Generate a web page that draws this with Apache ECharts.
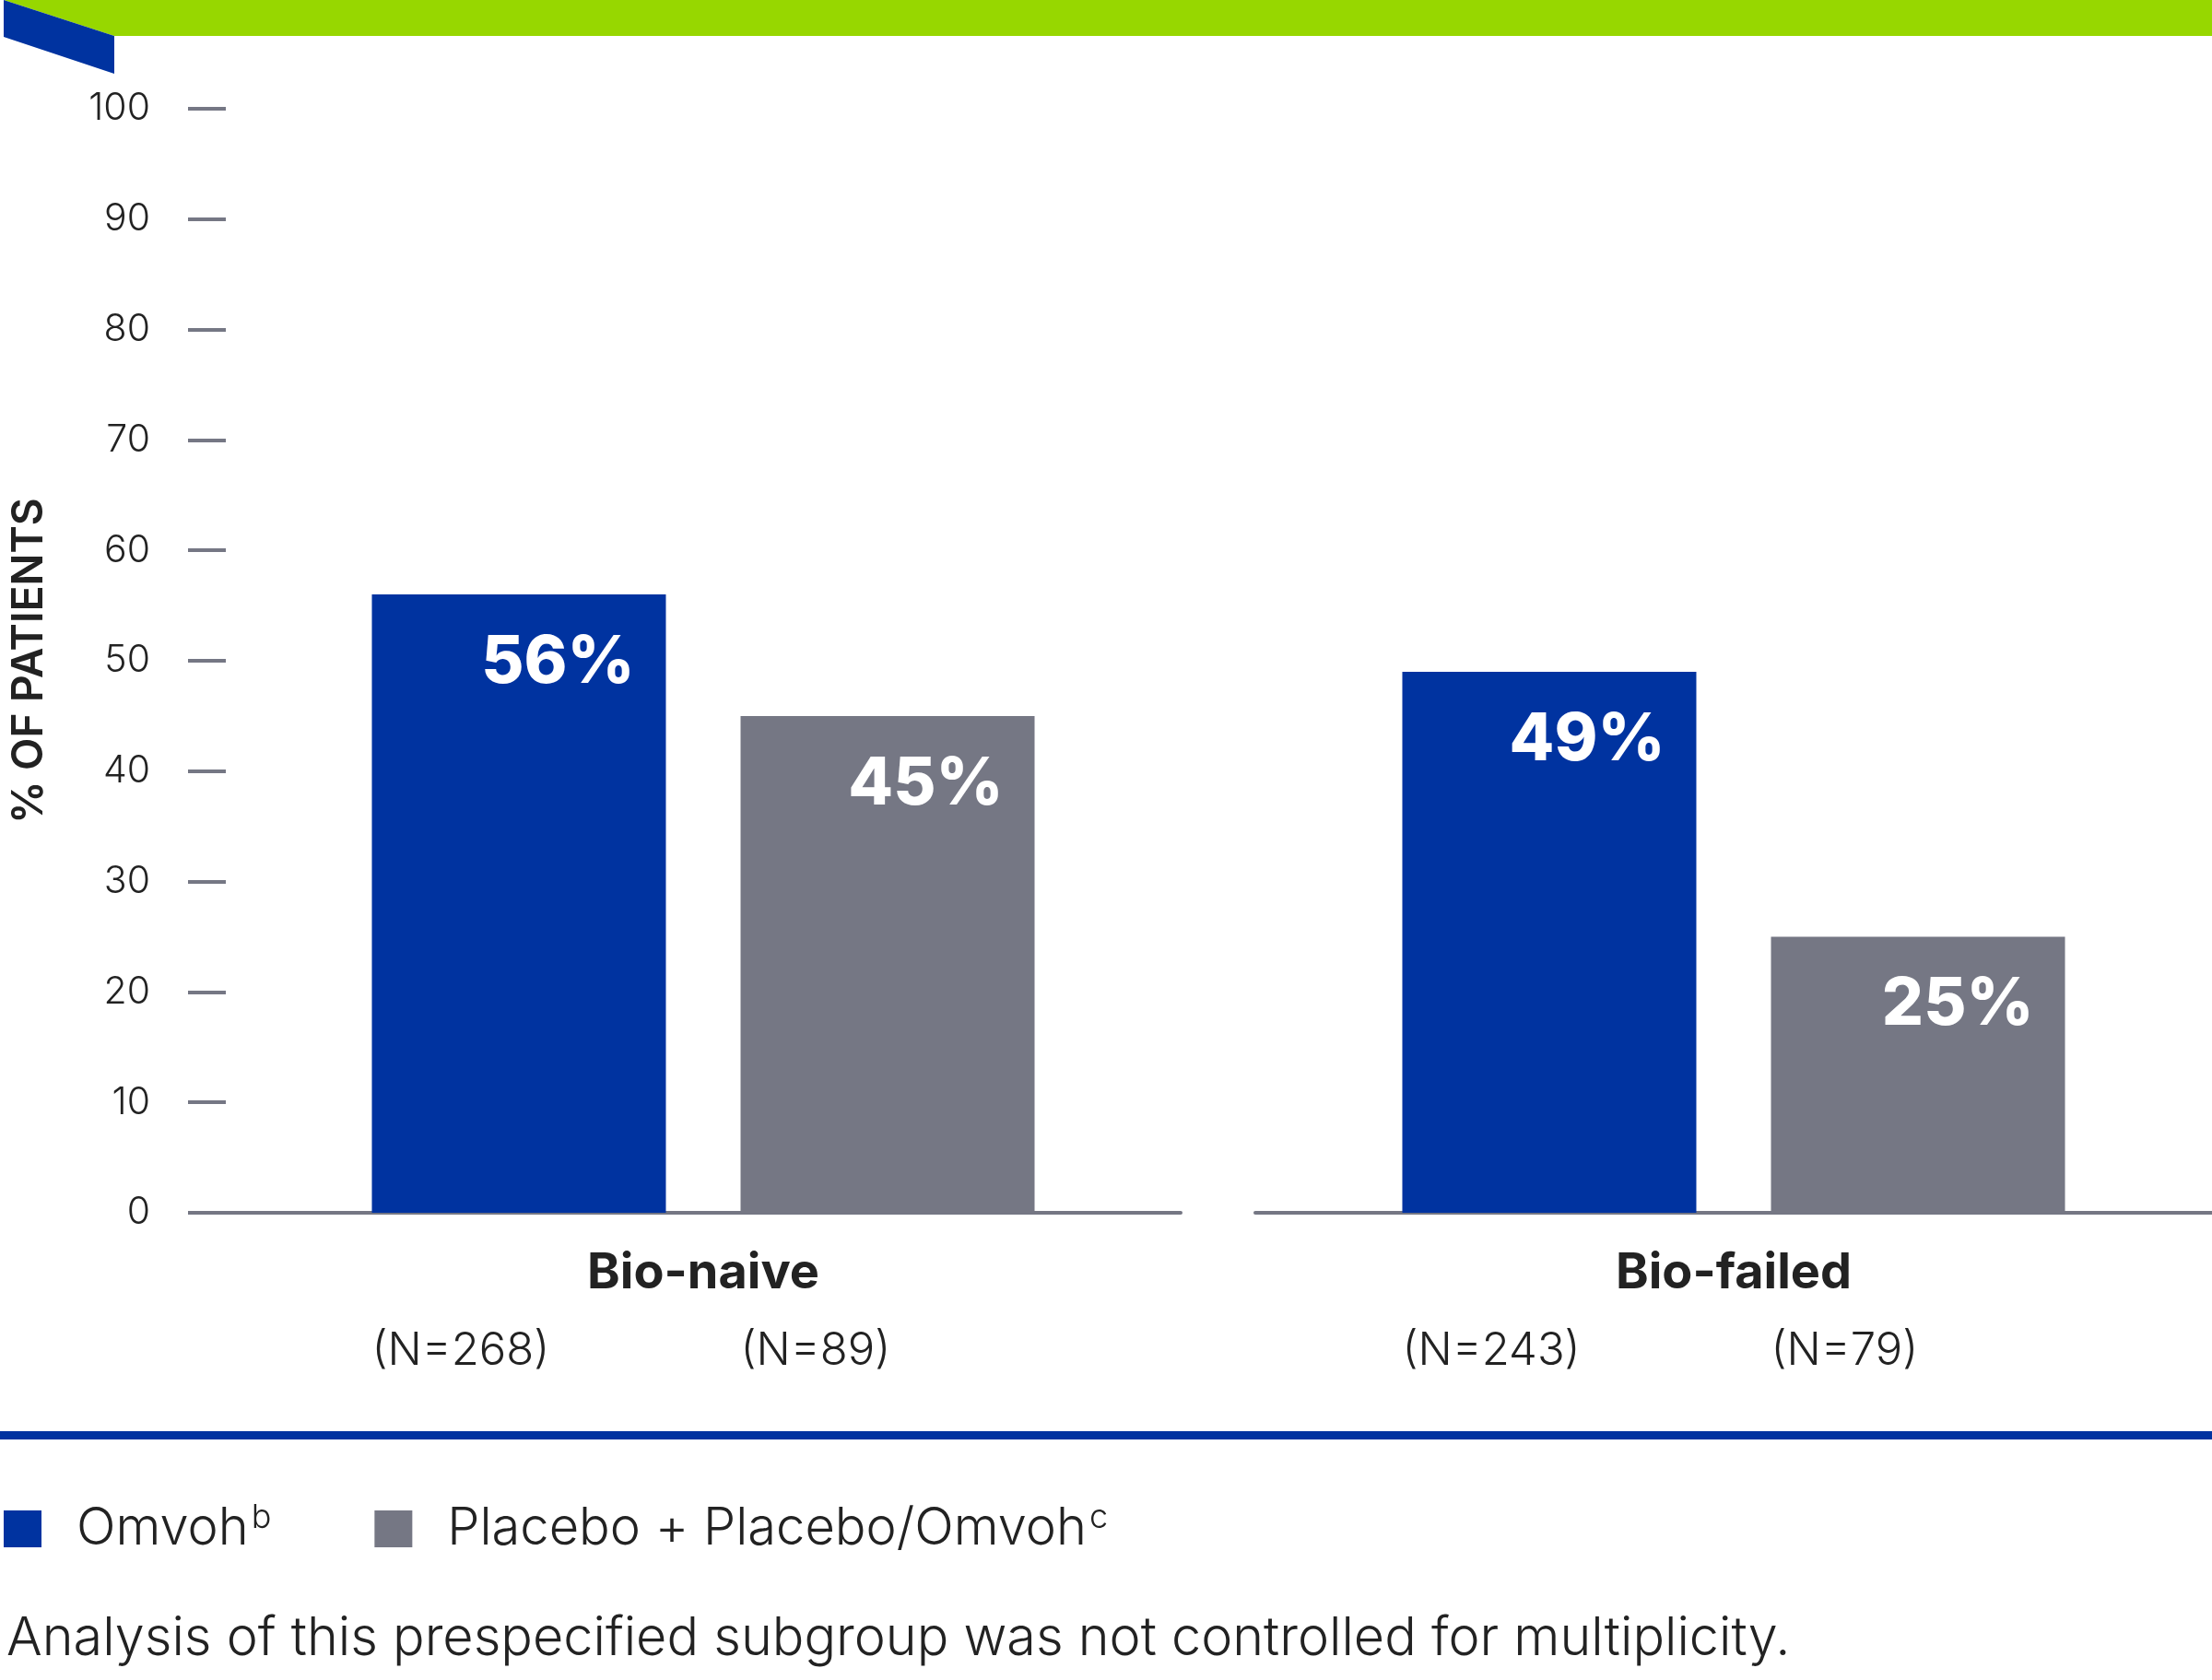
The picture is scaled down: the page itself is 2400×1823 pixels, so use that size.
<!DOCTYPE html>
<html>
<head>
<meta charset="utf-8">
<script src="https://cdn.jsdelivr.net/npm/echarts@6/dist/echarts.min.js"></script>
<style>
  html, body { margin: 0; padding: 0; background: #fff; }
  #chart { width: 2400px; height: 1823px; }
</style>
</head>
<body>
<div id="chart"></div>
<script>
// data
var groups = ['Bio-naive', 'Bio-failed'];
var seriesNames = ['Omvoh', 'Placebo + Placebo/Omvoh'];
var seriesSup = ['b', 'c'];
var omvohValues = [56, 49];
var placeboValues = [45, 25];
var omvohN = [268, 243];
var placeboN = [89, 79];
var yTicks = [0, 10, 20, 30, 40, 50, 60, 70, 80, 90, 100];

var BLUE = '#0033a0';
var GREY = '#757784';
var GREEN = '#97d700';
var TEXT = '#222222';
var FONT = 'Inter, "Noto Sans", sans-serif';

var chart = echarts.init(document.getElementById('chart'));

// Bar label (inside, top right)
var pctLabel = {
	show: true,
	position: 'insideTopRight',
	distance: 41,
	offset: [7, -2],
	formatter: '{c}%',
	color: '#fff',
	fontFamily: FONT,
	fontWeight: 800,
	fontSize: 71
};

var gridBoxes = [
	{ left: 245, right: 1119, top: 118, bottom: 507 },
	{ left: 1362, right: 0, top: 118, bottom: 507 }
];

var grids = [], xAxes = [], yAxes = [], series = [];
for (var i = 0; i < groups.length; i++) {
	grids.push(gridBoxes[i]);
	xAxes.push({
		type: 'category',
		gridIndex: i,
		data: [groups[i]],
		axisLine: { show: true, lineStyle: { color: GREY, width: 4 } },
		axisTick: { show: false },
		axisLabel: {
			margin: 30,
			formatter: (function(k) {
				return function(v) {
					return '{b|' + v + '}\n{n1|(N=' + omvohN[k] + ')}{n2|(N=' + placeboN[k] + ')}';
				};
			})(i),
			rich: {
				b: { fontFamily: FONT, fontWeight: 700, fontSize: 54, color: TEXT, lineHeight: 72, align: 'center' },
				n1: { fontFamily: FONT, fontWeight: 300, fontSize: 49, color: TEXT, lineHeight: 96, width: 400, align: 'left' },
				n2: { fontFamily: FONT, fontWeight: 300, fontSize: 49, color: TEXT, lineHeight: 96, width: 319, align: 'left' }
			}
		}
	});
	yAxes.push({
		type: 'value',
		gridIndex: i,
		show: i === 0,
		min: 0,
		max: 100,
		interval: 10,
		name: i === 0 ? '% OF PATIENTS' : '',
		nameLocation: 'middle',
		nameRotate: 90,
		nameGap: 190,
		nameTextStyle: { fontFamily: FONT, fontWeight: 600, fontSize: 46, color: TEXT },
		axisLine: { show: false },
		axisTick: { show: true, length: 41, lineStyle: { color: GREY, width: 4 } },
		splitLine: { show: false },
		axisLabel: { margin: 82, fontFamily: FONT, fontWeight: 300, fontSize: 41, color: TEXT }
	});
	series.push({
		name: seriesNames[0],
		type: 'bar',
		xAxisIndex: i,
		yAxisIndex: i,
		data: [omvohValues[i]],
		barWidth: 319,
		barGap: '25.4%',
		itemStyle: { color: BLUE },
		label: pctLabel
	});
	series.push({
		name: seriesNames[1],
		type: 'bar',
		xAxisIndex: i,
		yAxisIndex: i,
		data: [placeboValues[i]],
		barWidth: 319,
		barGap: '25.4%',
		itemStyle: { color: GREY },
		label: pctLabel
	});
}

var option = {
	animation: false,
	backgroundColor: '#fff',
	grid: grids,
	xAxis: xAxes,
	yAxis: yAxes,
	series: series,
	legend: {
		left: 4,
		top: 1629,
		padding: 0,
		icon: 'rect',
		itemWidth: 41,
		itemHeight: 40,
		itemGap: 112,
		data: seriesNames,
		formatter: function(name) {
			return '{t|' + name + '}{s|' + seriesSup[seriesNames.indexOf(name)] + '}';
		},
		textStyle: {
			padding: [0, 0, 0, 33],
			rich: {
				t: { fontFamily: FONT, fontWeight: 300, fontSize: 56, color: TEXT },
				s: { fontFamily: FONT, fontWeight: 300, fontSize: 36, color: TEXT, verticalAlign: 'top', padding: [0, 0, 24, 3] }
			}
		}
	},
	graphic: [
		// green header band
		{ type: 'polygon', shape: { points: [[4, 0], [2400, 0], [2400, 39], [124, 39]] }, style: { fill: GREEN } },
		// blue tab
		{ type: 'polygon', shape: { points: [[4, 0], [124, 39], [124, 80], [4, 40]] }, style: { fill: BLUE } },
		// divider line
		{ type: 'rect', shape: { x: 0, y: 1553, width: 2400, height: 9 }, style: { fill: BLUE } },
		// footnote
		{
			type: 'text', left: 7, top: 1750,
			style: {
				text: 'Analysis of this prespecified subgroup was not controlled for multiplicity.',
				fontFamily: FONT, fontWeight: 300, fontSize: 57.5, fill: TEXT
			}
		}
	]
};

chart.setOption(option);

window.onresize = function() {
	chart.resize();
};
</script>
</body>
</html>
